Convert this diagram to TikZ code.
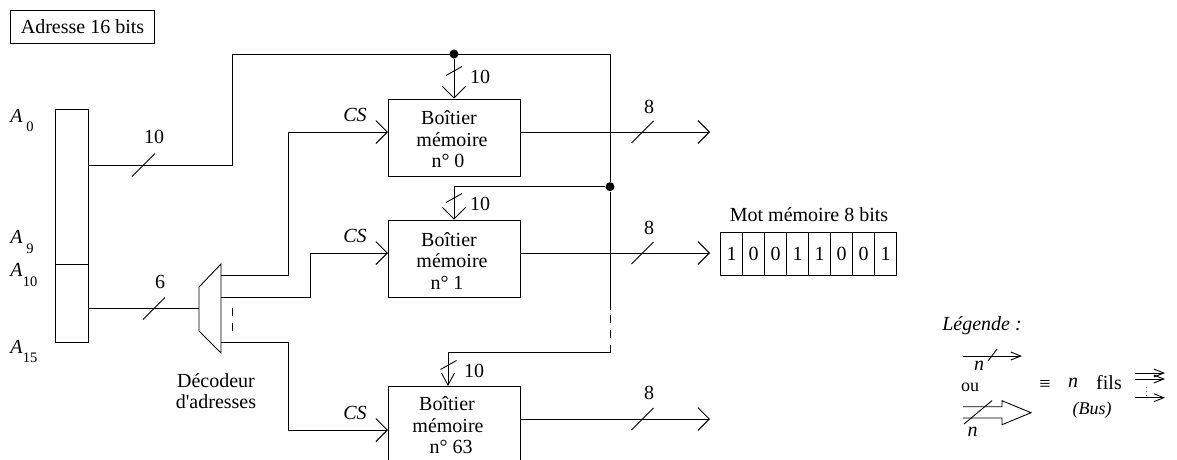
\documentclass[tikz,border=0pt]{standalone}
\usepackage{fontspec}
\setmainfont{Liberation Serif}
\newfontfamily\plainserif{Liberation Serif}
\usetikzlibrary{arrows.meta}

\newcommand{\bustick}[4]{\draw (#1,#2) ++(-#3,#4) -- ++(2*#3,-2*#4);}

\tikzset{
every node/.style={inner sep=0pt,font=\fontsize{20}{21.5}\selectfont},
boitier/.style={draw,minimum width=132pt,minimum height=77pt,align=center},
registre/.style={draw,minimum width=33pt},
bitcell/.style={draw,minimum width=22pt,minimum height=43pt},
jonction/.style={circle,fill=black,minimum size=9pt},
indice/.style={font=\fontsize{14.5}{16}\selectfont},
petit/.style={font=\fontsize{18}{20}\selectfont},
pointille/.style={dash pattern=on 8pt off 7pt},
bigtip/.style={-{Straight Barb[length=11.5pt,width=23pt]}},
midtip/.style={-{Straight Barb[length=12pt,width=13pt]}},
smalltip/.style={-{Straight Barb[length=10pt,width=8pt]}}
}

\begin{document}
\begin{tikzpicture}[x=1pt,y=-1pt,line width=0.9pt]
\useasboundingbox (0,0) rectangle (1177,459);

\node[draw,minimum width=144pt,minimum height=32.5pt] (adresse) at (82.5,27) {Adresse 16 bits};

% registre d'adresse
\node[registre,minimum height=155pt] (regA) at (71.5,186.5) {};
\node[registre,minimum height=78pt] (regB) at (71.5,303) {};
\node (a0) at (16.5,116) {\textit{A}};
\node[indice] (i0) at (30,127) {0};
\node (a9) at (16.5,237) {\textit{A}};
\node[indice] (i9) at (30,249) {9};
\node (a10) at (16.5,270) {\textit{A}};
\node[indice] (i10) at (30,282) {10};
\node (a15) at (16.5,347) {\textit{A}};
\node[indice] (i15) at (30,358) {15};

% decodeur
\coordinate (outA) at (88,165);
\coordinate (outB) at (88,308.7);
\coordinate (decin) at (199,308.7);
\coordinate (dec1) at (221,275);
\coordinate (dec2) at (221,297);
\coordinate (dec3) at (221,342);
\draw (199,287) -- (221,264) -- (221,353) -- (199,331) -- cycle;
\draw (outB) -- (decin);
\draw[pointille] (232,308) -- (232,331);
\node[align=center] (decodeur) at (216,391) {Décodeur\\{\plainserif d'adresses}};
\node (six) at (160,282) {6};
\bustick{154}{308.5}{11}{11}

% boitiers
\node[boitier] (box0) at (454,137.5) {\rule{0pt}{18pt}Boîtier\kern10pt\\mémoire\kern4pt\\n° 0\kern12pt};
\node[boitier] (box1) at (454,258.5) {\rule{0pt}{18pt}Boîtier\kern10pt\\mémoire\kern4pt\\n° 1\kern14pt};
\node[boitier] (box63) at (454,424.5) {\rule{0pt}{16pt}Boîtier\kern14pt\\mémoire\kern12pt\\n° 63\kern6pt};

\coordinate (cs0) at (388,132);
\coordinate (cs1) at (388,253);
\coordinate (cs63) at (388,430);
\draw[bigtip] (dec1) -- ++(67,0) |- (cs0);
\draw[bigtip] (dec2) -- ++(89,0) |- (cs1);
\draw[bigtip] (dec3) -- ++(67,0) |- (cs63);
\node (csl0) at (355,115) {\textit{CS}};
\node (csl1) at (355,236) {\textit{CS}};
\node (csl63) at (355,413) {\textit{CS}};

% bus d'adresse
\coordinate (turnA) at (232,54);
\coordinate (busend) at (610,54);
\coordinate (busdash) at (610,315);
\coordinate (busdash2) at (610,345);
\coordinate (busturn) at (610,352.6);
\coordinate (addr63) at (448,386);
\node[jonction] (jtop) at (454,54) {};
\node[jonction] (jmid) at (610,186.7) {};
\draw (outA) -| (turnA) -- (busend) -- (jmid) -- (610,310);
\draw[pointille] (busdash) -- (busdash2);
\draw[midtip] (busdash2) -- (busturn) -| (addr63);
\draw[bigtip] (jtop) -- (box0.north);
\draw[bigtip] (jmid) -| (box1.north);
\node (dix) at (154,137) {10};
\bustick{143.5}{165}{11.5}{11.5}
\node (dix0) at (480,77) {10};
\bustick{454}{71}{8}{4.5}
\node (dix1) at (480,204) {10};
\bustick{454}{198}{8}{4.5}
\node (dix63) at (474,371) {10};
\bustick{448.5}{365}{8}{4.5}

% sorties
\coordinate (s0a) at (520,132);
\coordinate (s0b) at (710,132);
\coordinate (s1a) at (520,253);
\coordinate (s1b) at (710,253);
\coordinate (s63a) at (520,419);
\coordinate (s63b) at (710,419);
\draw[bigtip] (s0a) -- (s0b);
\draw[bigtip] (s1a) -- (s1b);
\draw[bigtip] (s63a) -- (s63b);
\node (h0) at (649,107) {8};
\node (h1) at (649,228) {8};
\node (h63) at (649,393) {8};
\bustick{642.5}{132}{11}{11}
\bustick{642.5}{253}{11}{11}
\bustick{642.5}{419}{11}{11}

% mot memoire
\node (mot) at (809,215) {Mot mémoire 8 bits};
\foreach \bit [count=\i] in {1,0,0,1,1,0,0,1}
\node[bitcell] (m\i) at ({709.7+22*\i},253.5) {\bit};

% legende
\node (legende) at (982,326) {\textit{Légende :}};
\coordinate (la) at (963,356);
\coordinate (lb) at (1022,356);
\draw[smalltip] (la) -- (lb);
\bustick{992.5}{355}{4.5}{6}
\node (ln) at (979,366) {\textit{n}};
\node[petit] (ou) at (970,387) {ou};
\draw (963,406.7) -- (1002,406.7) -- (1002,400.7) -- (1031,412.7) -- (1002,424.7) -- (1002,418) -- (963,418);
\bustick{978}{412.3}{14}{11.7}
\node (ln2) at (972.7,432) {\textit{n}};
\node (equiv) at (1045,385) {≡};
\node (n) at (1073,383) {\textit{n}};
\node (fils) at (1109,383) {fils};
\node[petit] (bus) at (1092,410) {\textit{(Bus)}};
\coordinate (w1a) at (1135,373);
\coordinate (w1b) at (1165,373);
\coordinate (w2a) at (1135,379);
\coordinate (w2b) at (1165,379);
\coordinate (w3a) at (1135,397.7);
\coordinate (w3b) at (1165,397.7);
\draw[smalltip] (w1a) -- (w1b);
\draw[smalltip] (w2a) -- (w2b);
\draw[smalltip] (w3a) -- (w3b);
\node[font=\fontsize{8}{8}\selectfont] (dots) at (1146.7,389) {$\vdots$};

\end{tikzpicture}
\end{document}
